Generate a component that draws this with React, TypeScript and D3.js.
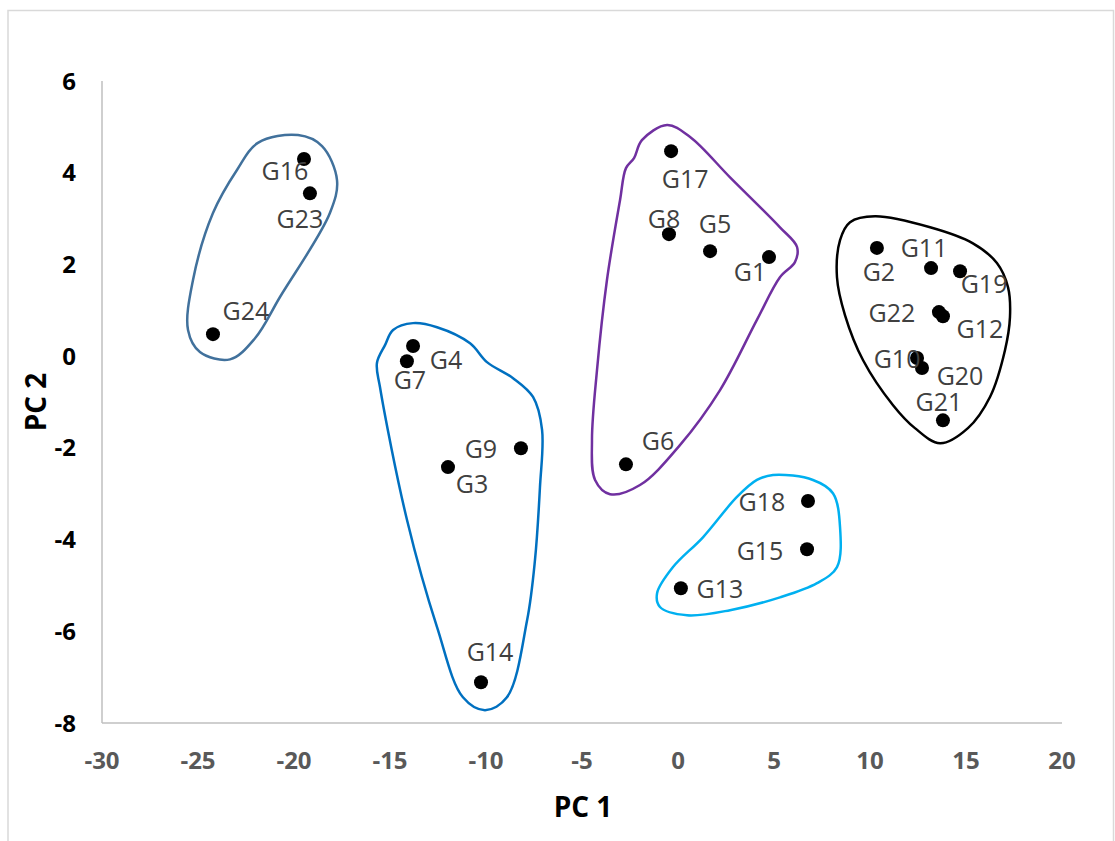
import React from "react";
import * as d3 from "d3";

// PCA scores
const genotypes = ["G1", "G2", "G3", "G4", "G5", "G6", "G7", "G8", "G9", "G10", "G11", "G12", "G13", "G14", "G15", "G16", "G17", "G18", "G19", "G20", "G21", "G22", "G23", "G24"];
const pc1 = [4.74, 10.36, -11.98, -13.8, 1.67, -2.71, -14.12, -0.47, -8.18, 12.45, 13.18, 13.8, 0.15, -10.26, 6.72, -19.48, -0.36, 6.77, 14.69, 12.71, 13.8, 13.59, -19.17, -24.22];
const pc2 = [2.16, 2.36, -2.42, 0.22, 2.29, -2.36, -0.11, 2.66, -2.01, -0.04, 1.92, 0.87, -5.06, -7.11, -4.21, 4.3, 4.47, -3.16, 1.85, -0.26, -1.4, 0.96, 3.55, 0.48];

const xTicks = [-30, -25, -20, -15, -10, -5, 0, 5, 10, 15, 20];
const yTicks = [-8, -6, -4, -2, 0, 2, 4, 6];

// cluster outlines, in PC units
const hullBlueGrey: [number, number][] = [[-21.88, 4.65], [-19.79, 4.82], [-18.54, 4.58], [-17.76, 3.84], [-18.13, 3.12], [-20.73, 1.29], [-22.03, 0.39], [-23.33, -0.07], [-24.9, 0.09], [-25.52, 0.57], [-25.26, 1.66], [-24.22, 3.12], [-22.97, 4.06]];
const hullBlue: [number, number][] = [[-15.26, 0.24], [-14.84, 0.57], [-13.8, 0.72], [-12.55, 0.63], [-10.83, 0.28], [-9.95, -0.13], [-8.59, -0.48], [-7.55, -0.89], [-7.08, -1.61], [-7.19, -2.86], [-7.45, -4.45], [-7.86, -5.76], [-8.91, -7.44], [-10.05, -7.72], [-11.2, -7.44], [-12.55, -5.91], [-14.11, -3.58], [-15.52, -0.68], [-15.68, -0.15]];
const hullPurple: [number, number][] = [[-0.57, 5.04], [0.63, 4.78], [2.71, 3.9], [5.31, 2.81], [6.2, 2.38], [6.09, 2.05], [5.31, 1.72], [4.11, 0.79], [2.19, -0.74], [0.1, -1.94], [-1.98, -2.81], [-3.54, -3.01], [-4.32, -2.7], [-4.48, -1.83], [-4.22, -0.31], [-3.7, 1.66], [-3.02, 3.4], [-2.71, 4.1], [-2.29, 4.32], [-1.88, 4.71]];
const hullBlack: [number, number][] = [[8.96, 2.92], [10.26, 3.05], [13.13, 2.81], [15.36, 2.46], [16.61, 2.03], [17.19, 1.5], [17.29, 0.85], [17.03, 0.13], [16.25, -0.89], [15.1, -1.57], [13.65, -1.9], [12.34, -1.57], [11.2, -1.07], [9.64, -0.09], [8.7, 0.89], [8.28, 1.72], [8.44, 2.53]];
const hullCyan: [number, number][] = [[4.95, -2.59], [7.03, -2.7], [8.07, -2.99], [8.44, -3.73], [8.28, -4.6], [7.24, -4.95], [5.31, -5.26], [2.71, -5.54], [0.47, -5.65], [-0.94, -5.47], [-1.09, -5.17], [-0.26, -4.6], [1.3, -3.95], [3.07, -3.07], [4.11, -2.7]];

const hulls = [
  { pts: hullBlueGrey, color: "#41719c" },
  { pts: hullBlue, color: "#0070c0" },
  { pts: hullPurple, color: "#7030a0" },
  { pts: hullBlack, color: "#000000" },
  { pts: hullCyan, color: "#00b0f0" },
];

// label placement relative to its point, px
const labelOffset: Record<string, [number, number]> = {
  G1: [-19, 15], G2: [2, 24], G3: [24, 17], G4: [33, 14], G5: [5, -27], G6: [32, -23],
  G7: [3, 19], G8: [-5, -15], G9: [-40, 1], G10: [-20, 1], G11: [-7, -20], G12: [37, 13],
  G13: [39, 1], G14: [9, -30], G15: [-47, 2], G16: [-19, 12], G17: [14, 28], G18: [-46, 1],
  G19: [24, 13], G20: [38, 8], G21: [-4, -18], G22: [-47, 1], G23: [-10, 26], G24: [33, -23],
};

const font = "'Open Sans', 'DejaVu Sans', sans-serif";

export default function App() {
  const width = 1115;
  const height = 841;
  const x = d3.scaleLinear().domain([-30, 20]).range([102, 1062]);
  const y = d3.scaleLinear().domain([-8, 6]).range([723, 81]);

  const line = d3
    .line<[number, number]>()
    .x((d) => x(d[0]))
    .y((d) => y(d[1]))
    .curve(d3.curveCatmullRomClosed.alpha(0.5));

  return (
    <svg
      width={width}
      height={height}
      style={{ position: "absolute", left: 0, top: 0, background: "#fff" }}
      fontFamily={font}
    >
      <rect x={8} y={10.5} width={1105.5} height={850} fill="#fff" stroke="#d9d9d9" strokeWidth={1.5} />

      {/* axes */}
      <line x1={x(-30)} x2={x(-30)} y1={y(6)} y2={y(-8)} stroke="#bfbfbf" strokeWidth={1.5} />
      <line x1={x(-30)} x2={x(20)} y1={y(-8)} y2={y(-8)} stroke="#bfbfbf" strokeWidth={1.5} />

      {xTicks.map((t) => (
        <text key={"x" + t} x={x(t)} y={760 + 8.6} textAnchor="middle" fontSize={24} fontWeight="bold" fill="#595959">
          {t}
        </text>
      ))}
      {yTicks.map((t) => (
        <text key={"y" + t} x={76} y={y(t) + 8.6} textAnchor="end" fontSize={24} fontWeight="bold" fill="#000">
          {t}
        </text>
      ))}

      <text x={583} y={817} textAnchor="middle" fontSize={28} fontWeight="bold" fill="#000">
        PC 1
      </text>
      <text transform="translate(46,402) rotate(-90)" textAnchor="middle" fontSize={28} fontWeight="bold" fill="#000">
        PC 2
      </text>

      {hulls.map((h, i) => (
        <path key={"h" + i} d={line(h.pts) ?? ""} fill="none" stroke={h.color} strokeWidth={2.5} />
      ))}

      {genotypes.map((g, i) => (
        <circle key={"p" + g} cx={x(pc1[i])} cy={y(pc2[i])} r={7} fill="#000" />
      ))}
      {genotypes.map((g, i) => {
        const [dx, dy] = labelOffset[g];
        return (
          <text
            key={"l" + g}
            x={x(pc1[i]) + dx}
            y={y(pc2[i]) + dy + 9}
            textAnchor="middle"
            fontSize={25}
            fill="#404040"
          >
            {g}
          </text>
        );
      })}
    </svg>
  );
}
